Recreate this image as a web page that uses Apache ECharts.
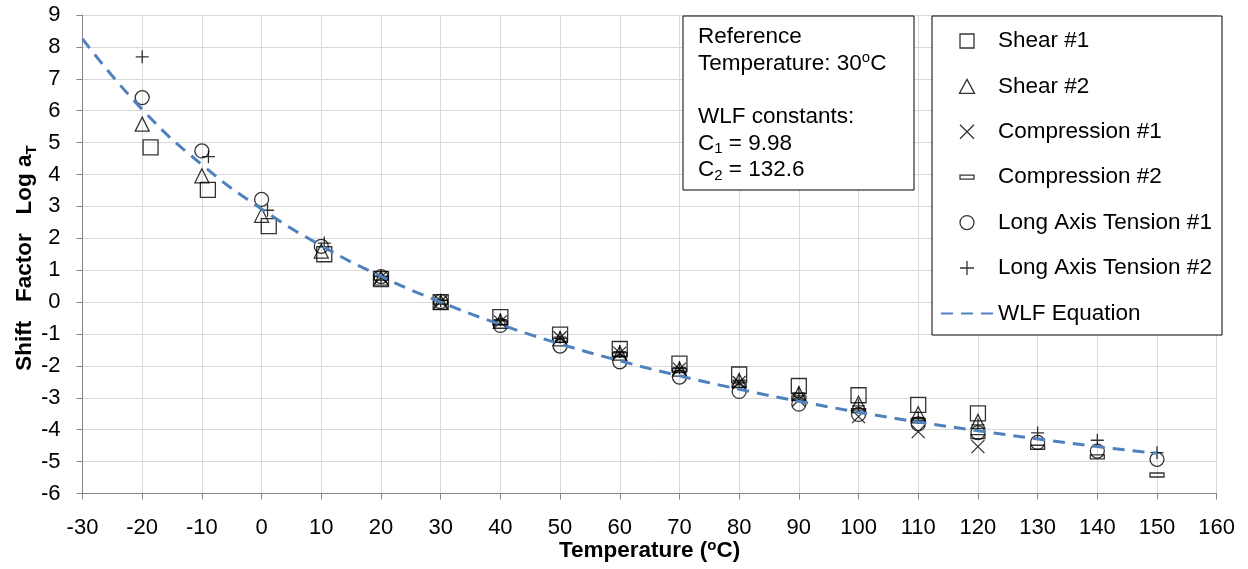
<!DOCTYPE html>
<html>
<head>
<meta charset="utf-8">
<script src="https://cdn.jsdelivr.net/npm/echarts@6/dist/echarts.min.js"></script>
<style>html,body{margin:0;padding:0;background:#fff}#c{width:1248px;height:569px}</style>
</head>
<body>
<div id="c"></div>
<script>
// ---- data ----
const seriesNames = ['Shear #1','Shear #2','Compression #1','Compression #2','Long Axis Tension #1','Long Axis Tension #2','WLF Equation'];

const shear1T = [-18.6,-9,1.2,10.5,20,30,40,50,60,70,80,90,100,110,120];
const shear1V = [4.85,3.52,2.38,1.5,0.72,0.0,-0.47,-1.02,-1.47,-1.93,-2.27,-2.63,-2.92,-3.22,-3.49];

const shear2T = [-20,-10,0,10,20,30,40,50,60,70,80,90,100,110,120];
const shear2V = [5.58,3.96,2.72,1.6,0.75,0.0,-0.6,-1.15,-1.6,-2.1,-2.46,-2.87,-3.17,-3.5,-3.74];

const comp1T = [20,30,40,50,60,70,80,90,100,110,120];
const comp1V = [0.78,0.02,-0.62,-1.12,-1.6,-2.1,-2.52,-3.07,-3.59,-4.06,-4.53];

const comp2T = [20,30,40,50,60,70,80,90,100,110,120,130,140,150];
const comp2V = [0.75,0.0,-0.65,-1.2,-1.65,-2.15,-2.6,-3.0,-3.4,-3.72,-4.22,-4.55,-4.85,-5.42];

const lat1T = [-20,-10,0,10,20,30,40,50,60,70,80,90,100,110,120,130,140,150];
const lat1V = [6.41,4.74,3.22,1.75,0.8,0.02,-0.73,-1.38,-1.87,-2.35,-2.8,-3.2,-3.52,-3.82,-4.09,-4.4,-4.67,-4.93];

const lat2T = [-20,-8.9,1.0,10.5,20,30,40,50,60,70,80,90,100,110,120,130,140,150];
const lat2V = [7.69,4.56,2.88,1.85,0.8,0.05,-0.55,-1.1,-1.55,-2.05,-2.45,-2.85,-3.25,-3.62,-3.85,-4.1,-4.33,-4.72];

const wlfT = [-30,-20,-10,0,10,20,30,40,50,60,70,80,90,100,110,120,130,140,150];
const wlfV = [8.25,6.04,4.31,2.92,1.77,0.81,0.0,-0.70,-1.31,-1.84,-2.31,-2.73,-3.11,-3.45,-3.76,-4.03,-4.29,-4.53,-4.74];

const xTicks = {min:-30, max:160, step:10};
const yTicks = {min:-6, max:9, step:1};

// ---- chart ----
const FONT = "'Liberation Sans', Arial, sans-serif";
const zip = (a,b) => a.map((v,i) => [v, b[i]]);

const SYM_SQUARE = 'path://M0,0L14,0L14,14L0,14Z';
const SYM_TRI = 'path://M7,0L14,13L0,13Z';
const SYM_X = 'path://M0,0L14,14M14,0L0,14';
const SYM_PLUS = 'path://M7,0L7,14M0,7L14,7';
const SYM_MINUS = 'path://M0,0M14,14M0,5L14,5L14,9L0,9Z';

function scatter(name, t, v, symbol, size) {
  return {
    name, type:'scatter', data: zip(t, v), symbol, symbolSize: size,
    itemStyle: {color:'rgba(0,0,0,0)', borderColor:'#000', borderWidth:1.3},
    emphasis: {disabled:true}, silent:true, z:2
  };
}

const chart = echarts.init(document.getElementById('c'), null, {renderer:'canvas'});
chart.setOption({
  animation: false,
  backgroundColor: '#fff',
  textStyle: {fontFamily: FONT},
  grid: {left:82.5, right:31.3, top:15, bottom:75.5, containLabel:false},
  xAxis: {
    type:'value', min:xTicks.min, max:xTicks.max, interval:xTicks.step,
    axisLine:{onZero:false, lineStyle:{color:'#868686', width:1}},
    axisTick:{show:true, length:6, inside:false, lineStyle:{color:'#868686'}},
    splitLine:{show:true, lineStyle:{color:'#d9d9d9', width:1}},
    axisLabel:{color:'#000', fontSize:22, fontFamily:FONT, margin:23}
  },
  yAxis: {
    type:'value', min:yTicks.min, max:yTicks.max, interval:yTicks.step,
    axisLine:{show:true, onZero:false, lineStyle:{color:'#868686', width:1}},
    axisTick:{show:true, length:6, inside:false, lineStyle:{color:'#868686'}},
    splitLine:{show:true, lineStyle:{color:'#d9d9d9', width:1}},
    axisLabel:{color:'#000', fontSize:22, fontFamily:FONT, margin:22}
  },
  legend: {
    orient:'vertical', left:940, top:29, itemWidth:52, itemHeight:14, itemGap:21.4,
    padding:0, z:6, selectedMode:false,
    textStyle:{color:'#000', fontSize:22.5, fontFamily:FONT, lineHeight:24},
    itemStyle:{borderWidth:1.3},
    data: seriesNames.map(n => n === 'WLF Equation'
      ? {name:n, itemStyle:{color:'rgba(0,0,0,0)', borderColor:'rgba(0,0,0,0)', borderWidth:0, opacity:0}}
      : {name:n})
  },
  graphic: [
    {type:'rect', z:3, shape:{x:683, y:16, width:231, height:174}, style:{fill:'#fff', stroke:'#000', lineWidth:1}},
    {type:'rect', z:3, shape:{x:932, y:16, width:290, height:319}, style:{fill:'#fff', stroke:'#000', lineWidth:1}},
    {type:'text', z:4, x:698, y:23.7, style:{
      text:'Reference\nTemperature: 30{sup|o}C\n\nWLF constants:\nC{sub|1} = 9.98\nC{sub|2} = 132.6',
      font:'22.5px ' + FONT, fill:'#000', lineHeight:26.6, verticalAlign:'top', align:'left',
      rich:{
        sup:{fontSize:15, fontFamily:FONT, lineHeight:26.6, verticalAlign:'top', fill:'#000'},
        sub:{fontSize:15, fontFamily:FONT, lineHeight:26.6, verticalAlign:'bottom', fill:'#000'}
      }
    }},
    {type:'text', z:4, x:649.6, y:551, style:{
      text:'Temperature ({sup|o}C)', font:'bold 22.5px ' + FONT, fill:'#000',
      align:'center', verticalAlign:'middle', lineHeight:26,
      rich:{sup:{fontSize:15, fontWeight:'bold', fontFamily:FONT, lineHeight:26, verticalAlign:'top', fill:'#000'}}
    }},
    {type:'text', z:4, x:25, y:258, rotation:Math.PI/2, style:{
      text:'Shift   Factor   Log a{sub|T}', font:'bold 22.5px ' + FONT, fill:'#000',
      align:'center', verticalAlign:'middle', lineHeight:28,
      rich:{sub:{fontSize:15, fontWeight:'bold', fontFamily:FONT, lineHeight:28, verticalAlign:'bottom', fill:'#000'}}
    }}
  ],
  series: [
    scatter('Shear #1', shear1T, shear1V, SYM_SQUARE, 15),
    scatter('Shear #2', shear2T, shear2V, SYM_TRI, 14),
    scatter('Compression #1', comp1T, comp1V, SYM_X, 13),
    scatter('Compression #2', comp2T, comp2V, SYM_MINUS, 14),
    scatter('Long Axis Tension #1', lat1T, lat1V, 'circle', 14),
    scatter('Long Axis Tension #2', lat2T, lat2V, SYM_PLUS, 13),
    {
      name:'WLF Equation', type:'line', data: zip(wlfT, wlfV), smooth:true,
      symbol:'none', showSymbol:false, z:3, silent:true,
      lineStyle:{color:'#4f81bd', width:3, type:[12,8]},
      itemStyle:{color:'rgba(0,0,0,0)', borderWidth:0},
      emphasis:{disabled:true}
    }
  ]
});
</script>
</body>
</html>
